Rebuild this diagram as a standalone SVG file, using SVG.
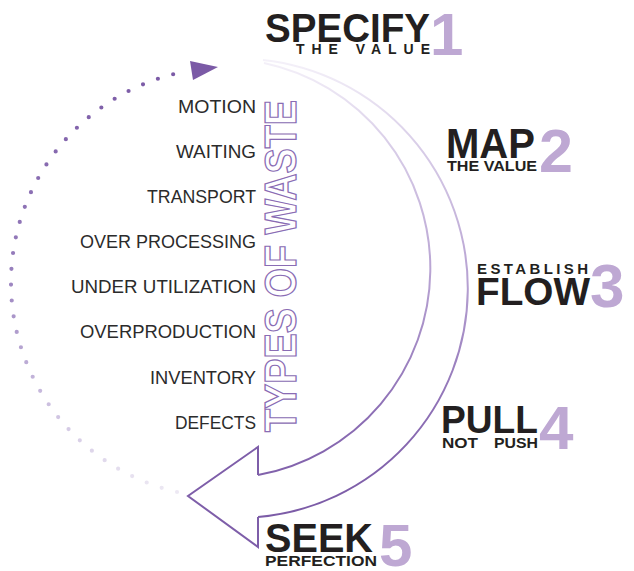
<svg xmlns="http://www.w3.org/2000/svg" width="634" height="571" viewBox="0 0 634 571">
<defs>
<style>
.title{font-family:"Liberation Sans",Arial,sans-serif;font-weight:bold;fill:#231f20}
.sub{font-family:"Liberation Sans",Arial,sans-serif;font-weight:bold;fill:#231f20}
.num{font-family:"Liberation Sans",Arial,sans-serif;font-weight:bold;fill:#bea8d3}
.waste{font-family:"Liberation Sans",Arial,sans-serif;font-size:17.5px;fill:#2b2b2b}
.types{font-family:"Liberation Sans",Arial,sans-serif;font-weight:bold;font-size:44px;fill:#ffffff;stroke:#8a6cb4;stroke-width:1.3}
.arc{fill:none;stroke:url(#arcGrad);stroke-width:2}
</style>
<linearGradient id="arcGrad" gradientUnits="userSpaceOnUse" x1="0" y1="55" x2="0" y2="500">
<stop offset="0" stop-color="#f6f3fa"/>
<stop offset="0.2" stop-color="#d9cee8"/>
<stop offset="0.5" stop-color="#b7a2d2"/>
<stop offset="0.8" stop-color="#8d6fb5"/>
<stop offset="1" stop-color="#7c5ca7"/>
</linearGradient>
<linearGradient id="dotGrad" gradientUnits="userSpaceOnUse" x1="0" y1="70" x2="0" y2="495">
<stop offset="0" stop-color="#7b5aa6"/>
<stop offset="0.45" stop-color="#957cbb"/>
<stop offset="0.75" stop-color="#c6b8dc"/>
<stop offset="1" stop-color="#eeeaf4"/>
</linearGradient>
</defs>
<rect width="634" height="571" fill="#ffffff"/>

<g id="connectors">
<path class="arc" d="M263 60 A229.6 229.6 0 0 1 258 517"/>
<path class="arc" d="M264 63 A210 210 0 0 1 258 475"/>
<path d="M258 475 L258 447 L188 496 L258 547 L258 517" fill="#ffffff" stroke="#7e5ea9" stroke-width="2" stroke-linejoin="miter"/>
<path d="M177 492 A215 215 0 0 1 183 72" fill="none" stroke="url(#dotGrad)" stroke-width="4.2" stroke-linecap="round" stroke-dasharray="0 15.9"/>
<polygon points="190,61 218,67 193,80" fill="#7b5aa6"/>
</g>

<g id="step1">
<text class="title" x="265" y="42" font-size="40" textLength="165" lengthAdjust="spacingAndGlyphs">SPECIFY</text>
<text class="sub" x="296" y="54" font-size="14" textLength="134" lengthAdjust="spacing">THE VALUE</text>
<text class="num" x="430" y="55" font-size="60">1</text>
</g>
<g id="step2">
<text class="title" x="446" y="158" font-size="42" textLength="89" lengthAdjust="spacingAndGlyphs">MAP</text>
<text class="sub" x="447" y="171" font-size="14" textLength="90" lengthAdjust="spacingAndGlyphs">THE VALUE</text>
<text class="num" x="539" y="172" font-size="61">2</text>
</g>
<g id="step3">
<text class="sub" x="477" y="274" font-size="15" textLength="111" lengthAdjust="spacing">ESTABLISH</text>
<text class="title" x="476" y="305" font-size="39" textLength="114" lengthAdjust="spacingAndGlyphs">FLOW</text>
<text class="num" x="590" y="307" font-size="62">3</text>
</g>
<g id="step4">
<text class="title" x="441" y="433" font-size="39" textLength="97" lengthAdjust="spacingAndGlyphs">PULL</text>
<text class="sub" x="442" y="448" font-size="15" textLength="36" lengthAdjust="spacingAndGlyphs">NOT</text>
<text class="sub" x="494" y="448" font-size="15" textLength="44" lengthAdjust="spacingAndGlyphs">PUSH</text>
<text class="num" x="539" y="449" font-size="62">4</text>
</g>
<g id="step5">
<text class="title" x="265" y="552" font-size="40" textLength="108" lengthAdjust="spacingAndGlyphs">SEEK</text>
<text class="sub" x="265" y="566" font-size="15" textLength="112" lengthAdjust="spacingAndGlyphs">PERFECTION</text>
<text class="num" x="379" y="566" font-size="60">5</text>
</g>

<g id="waste-list">
<text class="waste" x="178" y="113" textLength="78" lengthAdjust="spacingAndGlyphs">MOTION</text>
<text class="waste" x="176" y="158" textLength="80" lengthAdjust="spacingAndGlyphs">WAITING</text>
<text class="waste" x="147" y="203" textLength="109" lengthAdjust="spacingAndGlyphs">TRANSPORT</text>
<text class="waste" x="80" y="248" textLength="176" lengthAdjust="spacingAndGlyphs">OVER PROCESSING</text>
<text class="waste" x="71" y="293" textLength="185" lengthAdjust="spacingAndGlyphs">UNDER UTILIZATION</text>
<text class="waste" x="80" y="338" textLength="176" lengthAdjust="spacingAndGlyphs">OVERPRODUCTION</text>
<text class="waste" x="150" y="384" textLength="106" lengthAdjust="spacingAndGlyphs">INVENTORY</text>
<text class="waste" x="175" y="429" textLength="81" lengthAdjust="spacingAndGlyphs">DEFECTS</text>
</g>

<g id="types-of-waste">
<text class="types" transform="translate(296,432) rotate(-90)" x="0" y="0" textLength="332" lengthAdjust="spacingAndGlyphs">TYPES OF WASTE</text>
</g>
</svg>
